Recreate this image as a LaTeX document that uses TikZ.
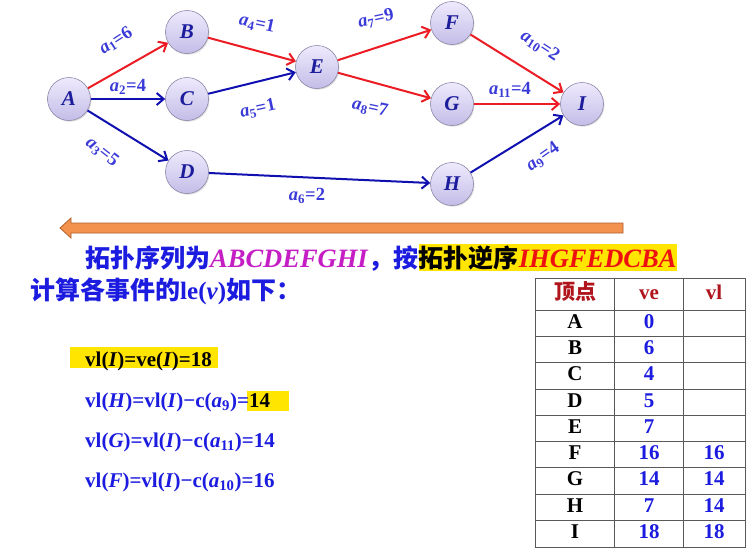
\documentclass[tikz,border=0pt]{standalone}
\usepackage{fontspec}
\setmainfont{Liberation Serif}
\newfontfamily\cjk{Noto Sans CJK SC}
\usetikzlibrary{arrows.meta,shadows}

\definecolor{vtxtop}{HTML}{EEEAFC}
\definecolor{vtxbot}{HTML}{C4BDE8}
\definecolor{vtxline}{HTML}{8C87A8}
\definecolor{vtxtext}{HTML}{1C1C9C}
\definecolor{critred}{HTML}{EC1C24}
\definecolor{arcblue}{HTML}{1010B0}
\definecolor{wtblue}{HTML}{3A3AD8}
\definecolor{txtblue}{HTML}{1C1CE0}
\definecolor{seqmag}{HTML}{C41EC4}
\definecolor{seqred}{HTML}{EE1010}
\definecolor{hilite}{HTML}{FFE500}
\definecolor{headred}{HTML}{B0141C}
\definecolor{barfill}{HTML}{F2924E}
\definecolor{barline}{HTML}{B0602E}

\newcommand{\wt}[2]{\textit{a}\textsubscript{#1}=#2}
\newcommand{\caps}[1]{{\fontsize{26.5}{28}\selectfont\textit{#1}}}

\begin{document}
\begin{tikzpicture}[x=1pt,y=-1pt,
    vertex/.style={circle, minimum size=43pt, inner sep=0pt, draw=vtxline, line width=0.6pt,
      top color=vtxtop, bottom color=vtxbot,
      drop shadow={shadow xshift=1pt, shadow yshift=-1.2pt, opacity=0.25},
      font=\fontsize{21}{25}\selectfont\bfseries\itshape, text=vtxtext},
    crit/.style={draw=critred, line width=2pt, -{Straight Barb[length=7pt,width=12pt]}},
    plain/.style={draw=arcblue, line width=2pt, -{Straight Barb[length=7pt,width=12pt]}},
    wlabel/.style={font=\fontsize{18.5}{20}\selectfont\bfseries, text=wtblue, inner sep=1pt},
    line/.style={font=\fontsize{25}{28}\selectfont\bfseries, text=txtblue, inner sep=0pt, anchor=base west},
    formula/.style={font=\fontsize{21}{24}\selectfont\bfseries, text=txtblue, inner sep=0pt, anchor=base west},
    tablegrid/.style={draw=black!65, line width=0.8pt},
    tabtext/.style={font=\fontsize{21}{24}\selectfont\bfseries, text height=14pt, text depth=4pt},
    thead/.style={tabtext, text=headred},
    tcell/.style={tabtext, text=black},
    tnum/.style={tabtext, text=txtblue}]
  \useasboundingbox[fill=white] (0,0) rectangle (756,555);

  % vertices
  \node[vertex] (A) at (69,99) {A};
  \node[vertex] (B) at (187,32) {B};
  \node[vertex] (C) at (187,99) {C};
  \node[vertex] (D) at (187,172) {D};
  \node[vertex] (E) at (317,67) {E};
  \node[vertex] (F) at (452,23) {F};
  \node[vertex] (G) at (452,104) {G};
  \node[vertex] (H) at (452,184) {H};
  \node[vertex] (I) at (582,104) {I};

  % arcs
  \draw[crit] (A) -- (B);
  \draw[plain] (A) -- (C);
  \draw[plain] (A) -- (D);
  \draw[crit] (B) -- (E);
  \draw[plain] (C) -- (E);
  \draw[plain] (D) -- (H);
  \draw[crit] (E) -- (F);
  \draw[crit] (E) -- (G);
  \draw[crit] (F) -- (I);
  \draw[crit] (G) -- (I);
  \draw[plain] (H) -- (I);

  % weights
  \node[wlabel, rotate=33] (w1) at (116,41) {\wt{1}{6}};
  \node[wlabel] (w2) at (128,87) {\wt{2}{4}};
  \node[wlabel, rotate=-38] (w3) at (102,152) {\wt{3}{5}};
  \node[wlabel, rotate=-12] (w4) at (257,24) {\wt{4}{1}};
  \node[wlabel, rotate=12] (w5) at (258,109) {\wt{5}{1}};
  \node[wlabel] (w6) at (307,196) {\wt{6}{2}};
  \node[wlabel, rotate=12] (w7) at (376,19) {\wt{7}{9}};
  \node[wlabel, rotate=-12] (w8) at (370,108) {\wt{8}{7}};
  \node[wlabel, rotate=35] (w9) at (543,157) {\wt{9}{4}};
  \node[wlabel, rotate=-33] (w10) at (540,46) {\wt{10}{2}};
  \node[wlabel] (w11) at (510,90) {\wt{11}{4}};

  % reverse-order arrow
  \filldraw[fill=barfill, draw=barline, line width=0.8pt]
    (623,223) -- (71,223) -- (71,218) -- (60,228) -- (71,238) -- (71,233) -- (623,233) -- cycle;

  % text
  \node[line] (seq) at (85,267) {{\cjk 拓扑序列为}\textcolor{seqmag}{\caps{ABCDEFGHI}}{\cjk ，按}};
  \node[line, fill=hilite, inner ysep=1pt] (rev) at (seq.base east)
    {\textcolor{black}{\cjk 拓扑逆序}\textcolor{seqred}{\caps{IHGFEDCBA}}};
  \node[line] (calc) at (30,299) {{\cjk 计算各事件的}le(\textit{v}){\cjk 如下：}};

  \fill[hilite] (70,347) rectangle (218,368);
  \fill[hilite] (247,391) rectangle (289,411);
  \node[formula, text=black] (vlI) at (85,366) {vl(\textit{I})=ve(\textit{I})=18};
  \node[formula] (vlH) at (85,407) {vl(\textit{H})=vl(\textit{I})−c(\textit{a}\textsubscript{9})=\textcolor{black}{14}};
  \node[formula] (vlG) at (85,447) {vl(\textit{G})=vl(\textit{I})−c(\textit{a}\textsubscript{11})=14};
  \node[formula] (vlF) at (85,487) {vl(\textit{F})=vl(\textit{I})−c(\textit{a}\textsubscript{10})=16};

  % table
  \draw[tablegrid] (535,278) rectangle (745,547);
  \draw[tablegrid] (614,278) -- (614,547);
  \draw[tablegrid] (683,278) -- (683,547);
  \foreach \k in {0,...,8}
    \draw[tablegrid] (535,{310+26.3*\k}) -- (745,{310+26.3*\k});
  \node[thead] (hv) at (575,294) {\cjk 顶点};
  \node[thead] (he) at (649,294) {ve};
  \node[thead] (hl) at (714,294) {vl};
  \foreach \v/\e/\l [count=\i] in {A/0/{},B/6/{},C/4/{},D/5/{},E/7/{},F/16/16,G/14/14,H/7/14,I/18/18} {
    \node[tcell] (v\v) at (575,{310+26.3*(\i-0.5)}) {\v};
    \node[tnum] (e\v) at (649,{310+26.3*(\i-0.5)}) {\e};
    \node[tnum] (l\v) at (714,{310+26.3*(\i-0.5)}) {\l};
  }
\end{tikzpicture}
\end{document}
